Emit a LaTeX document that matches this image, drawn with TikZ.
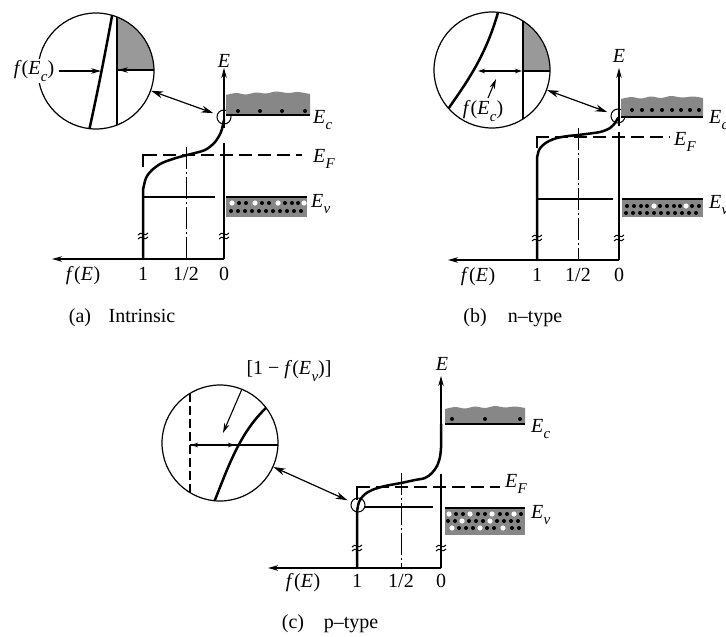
\documentclass[tikz,border=0pt]{standalone}
\usepackage{fontspec}
\setmainfont{Liberation Serif}
\usetikzlibrary{arrows.meta}
\newcommand{\Es}[1]{\textit{E}\kern0.3pt\raisebox{-0.32em}{\fontsize{15}{15}\selectfont\textit{#1}}}
\newcommand{\fofE}{\textit{f}\kern0.5pt(\textit{E}\kern0.5pt)}
\tikzset{
  axisline/.style={line width=1.4pt},
  eaxis/.style={line width=1.1pt},
  fcurve/.style={line width=2.5pt, line cap=round},
  thinl/.style={line width=1.1pt},
  efdash/.style={line width=1.3pt, dash pattern=on 13pt off 6pt},
  halfline/.style={line width=1pt, dash pattern=on 22pt off 3pt on 2pt off 3pt},
  magdash/.style={line width=1.3pt, dash pattern=on 9pt off 4pt},
  bandgray/.style={fill=black!47},
  maggray/.style={fill=black!40},
  bandedge/.style={line width=2pt},
  txt/.style={font=\fontsize{20}{23}\selectfont, inner sep=0pt},
  arrowtip/.style={-{Stealth[length=10pt,width=5.5pt]}},
  dbl/.style={{Stealth[length=12pt,width=7pt]}-{Stealth[length=12pt,width=7pt]}, line width=1.2pt, shorten >=4pt},
  inarrows/.style={{Stealth[length=7pt,width=4.5pt]}-{Stealth[length=7pt,width=4.5pt]}, line width=1.1pt},
  mag/.style={circle, draw, line width=1.2pt, minimum size=116pt, inner sep=0pt},
  spot/.style={circle, draw, line width=1pt, minimum size=14pt, inner sep=0pt},
  brk/.style={line width=1pt},
  edot/.style={fill=black},
  hdot/.style={fill=white},
}
\newcommand{\breakmark}[2]{%
  \draw[brk] (#1-5,#2-1) .. controls (#1-2,#2-6) and (#1+2,#2+2) .. (#1+5,#2-3);
  \draw[brk] (#1-5,#2+3) .. controls (#1-2,#2-2) and (#1+2,#2+6) .. (#1+5,#2+1);}
\begin{document}
\begin{tikzpicture}[x=1pt,y=-1pt]
\useasboundingbox (0,0) rectangle (726,637);
\fill[white] (0,0) rectangle (726,637);

% ================= (a) Intrinsic =================
\begin{scope}
  \clip (96,71) circle[radius=58];
  \fill[maggray] (117,70) rectangle (160,5);
  \draw[thinl] (117,0) -- (117,140);
  \draw[thinl] (117,70) -- (160,70);
  \draw[fcurve] (87,140) .. controls (97,95) and (105,55) .. (114,5);
  \draw[thinl, arrowtip] (134,70) -- (118,70);
\end{scope}
\node[mag] (magA) at (96,71) {};
\node[txt, fill=white, inner sep=1.5pt] (fEcA) at (34,71) {\textit{f}(\Es{c})};
\draw[thinl, arrowtip, shorten <=3pt] (fEcA.east) -- (101,71);
\node[spot] (spotA) at (224,117) {};
\draw[dbl] (magA) -- (spotA);

% bands
\fill[bandgray] (226,115) -- plot[smooth] coordinates {(226,95) (236,93) (246,94.5) (256,92.5) (266,93.5) (276,91.5) (288,93) (298,92) (310,94)} -- (310,115) -- cycle;
\draw[bandedge] (226,115) -- (310,115);
\foreach \x in {238,260,282,305} \fill[edot] (\x,111) circle[radius=2];
\fill[bandgray] (226,197) rectangle (307,217);
\draw[bandedge] (226,197) -- (307,197);
\foreach \x in {239,246,262,269,285,292,298} \fill[edot] (\x,203) circle[radius=2];
\foreach \x in {232,255,278,304} \fill[hdot] (\x,203) circle[radius=2.6];
\foreach \x in {231,238,245,252,259,266,273,280,287,294,301} \fill[edot] (\x,211) circle[radius=2];

% axes
\draw[axisline, arrowtip] (224,259) -- (52,259);
\draw[eaxis] (224,259) -- (224,143);
\draw[eaxis, arrowtip] (224,128) -- (224,68);
\node[txt, anchor=base] (EA) at (224,67) {\textit{E}};
% T = 0 step and E_F
\draw[thinl] (143,167) -- (143,155) -- (157,155);
\draw[efdash] (163,155) -- (302,155);
\draw[halfline] (186,147) -- (186,259);
\draw[thinl] (143,197) -- (215,197);
\draw[fcurve] (143,259) -- plot[smooth] coordinates {(143,190) (146,178) (152,170) (162,163) (176,158) (187,155) (205,150) (215,142) (221,132) (224,120)};
\breakmark{143}{236}
\breakmark{224}{236}
% labels
\node[txt, anchor=base] (fEA) at (83,280) {\fofE};
\node[txt, anchor=base] (oneA) at (143,280) {1};
\node[txt, anchor=base] (halfA) at (186,280) {1/2};
\node[txt, anchor=base] (zeroA) at (224,280) {0};
\node[txt, anchor=base] (capAa) at (80,322) {(a)};
\node[txt, anchor=base] (capAb) at (142,322) {Intrinsic};
\node[txt, anchor=base west] (EcA) at (313,123) {\Es{c}};
\node[txt, anchor=base west] (EFA) at (313,162) {\Es{F}};
\node[txt, anchor=base west] (EvA) at (311,207) {\Es{v}};

% ================= (b) n-type =================
\begin{scope}
  \clip (492,70) circle[radius=58];
  \fill[maggray] (523,71) rectangle (560,5);
  \draw[thinl] (523,0) -- (523,140);
  \draw[thinl] (523,71) -- (560,71);
  \draw[fcurve] (442,118) .. controls (462,88) and (486,60) .. (500,5);
  \draw[inarrows] (478,71) -- (522,71);
\end{scope}
\node[mag] (magB) at (492,70) {};
\node[txt] (fEcB) at (483,111) {\textit{f}(\Es{c})};
\draw[thinl, arrowtip] (488,98) -- (496,79);
\node[spot] (spotB) at (618,116) {};
\draw[dbl] (magB) -- (spotB);

\fill[bandgray] (621,117) -- plot[smooth] coordinates {(621,99) (631,97) (641,98.5) (651,96.5) (661,98) (671,96) (682,97.5) (693,96.5) (703,98)} -- (703,117) -- cycle;
\draw[bandedge] (621,117) -- (703,117);
\foreach \x in {632,642,652,662,672,681,690,699} \fill[edot] (\x,110) circle[radius=2];
\fill[bandgray] (622,199) rectangle (703,217);
\draw[bandedge] (622,199) -- (703,199);
\foreach \x in {627,634,641,647,660,667,674,680,692,699} \fill[edot] (\x,206) circle[radius=2];
\foreach \x in {654,686} \fill[hdot] (\x,206) circle[radius=2.6];
\foreach \x in {626,633,640,647,654,661,668,675,682,689,696} \fill[edot] (\x,213) circle[radius=2];

\draw[axisline, arrowtip] (619,260) -- (448,260);
\draw[eaxis] (619,260) -- (619,132);
\draw[eaxis, arrowtip] (619,126) -- (619,68);
\node[txt, anchor=base] (EB) at (619,62) {\textit{E}};
\draw[thinl] (537,148) -- (537,137) -- (549,137);
\draw[efdash] (555,137) -- (670,137);
\draw[halfline] (578,128) -- (578,260);
\draw[thinl] (537,199) -- (613,199);
\draw[fcurve] (537,260) -- plot[smooth] coordinates {(537,158) (539,150) (543,145) (549,141) (557,138) (568,136) (578,135) (600,132) (610,128) (615,123) (618,118)};
\breakmark{537}{238}
\breakmark{619}{238}
\node[txt, anchor=base] (fEB) at (478,281) {\fofE};
\node[txt, anchor=base] (oneB) at (537,281) {1};
\node[txt, anchor=base] (halfB) at (578,281) {1/2};
\node[txt, anchor=base] (zeroB) at (619,281) {0};
\node[txt, anchor=base] (capBa) at (475,322) {(b)};
\node[txt, anchor=base] (capBb) at (535,322) {n--type};
\node[txt, anchor=base west] (EcB) at (709,123) {\Es{c}};
\node[txt, anchor=base west] (EFB) at (674,145) {\Es{F}};
\node[txt, anchor=base west] (EvB) at (709,208) {\Es{v}};

% ================= (c) p-type =================
\begin{scope}
  \clip (220,443) circle[radius=58];
  \draw[magdash] (190,380) -- (190,510);
  \draw[thinl] (190,445) -- (290,445);
  \draw[fcurve] (211,510) .. controls (228,468) and (240,428) .. (274,401);
  \draw[inarrows] (191,445) -- (235,445);
\end{scope}
\node[mag] (magC) at (220,443) {};
\node[txt] (omfC) at (289,371) {[1 − \textit{f}(\Es{v})]};
\draw[thinl, arrowtip] (242,389) -- (223,433);
\node[spot] (spotC) at (358,505) {};
\draw[dbl] (magC) -- (spotC);

\fill[bandgray] (445,424) -- plot[smooth] coordinates {(445,409) (455,407) (465,408.5) (475,406.5) (485,408) (495,406) (505,407.5) (515,406.5) (525,408)} -- (525,424) -- cycle;
\draw[bandedge] (445,424) -- (525,424);
\foreach \x in {452,485,520} \fill[edot] (\x,419) circle[radius=2];
\fill[bandgray] (445,508) rectangle (525,535);
\draw[bandedge] (445,508) -- (525,508);
\foreach \x in {456,463,478,485,500,507,521} \fill[edot] (\x,514) circle[radius=2];
\foreach \x in {449,470,492,514} \fill[hdot] (\x,514) circle[radius=2.6];
\foreach \x in {448,455,469,476,483,497,504,511,518} \fill[edot] (\x,521) circle[radius=2];
\foreach \x in {462,490} \fill[hdot] (\x,521) circle[radius=2.6];
\foreach \x in {459,466,473,487,494,512,519} \fill[edot] (\x,528) circle[radius=2];
\foreach \x in {452,480,503} \fill[hdot] (\x,528) circle[radius=2.6];

\draw[axisline, arrowtip] (441,568) -- (268,568);
\draw[eaxis] (441,568) -- (441,474);
\draw[eaxis, arrowtip] (441,448) -- (441,376);
\node[txt, anchor=base] (EC) at (442,370) {\textit{E}};
\draw[thinl] (357,500) -- (357,487) -- (370,487);
\draw[efdash] (376,487) -- (500,487);
\draw[halfline] (401,473) -- (401,568);
\draw[thinl] (364,507) -- (433,507);
\draw[fcurve] (357,568) -- plot[smooth] coordinates {(357,512) (359,502) (364,495) (372,490) (385,486) (401,483) (415,480) (425,478) (432,473) (437,466) (440,457) (441,448)} -- (441,424);
\breakmark{357}{548}
\breakmark{441}{548}
\node[txt, anchor=base] (fEC) at (303,587) {\fofE};
\node[txt, anchor=base] (oneC) at (357,587) {1};
\node[txt, anchor=base] (halfC) at (401,587) {1/2};
\node[txt, anchor=base] (zeroC) at (441,587) {0};
\node[txt, anchor=base] (capCa) at (293,628) {(c)};
\node[txt, anchor=base] (capCb) at (351,628) {p--type};
\node[txt, anchor=base west] (EcC) at (531,432) {\Es{c}};
\node[txt, anchor=base west] (EFC) at (505,487) {\Es{F}};
\node[txt, anchor=base west] (EvC) at (531,518) {\Es{v}};
\end{tikzpicture}
\end{document}
